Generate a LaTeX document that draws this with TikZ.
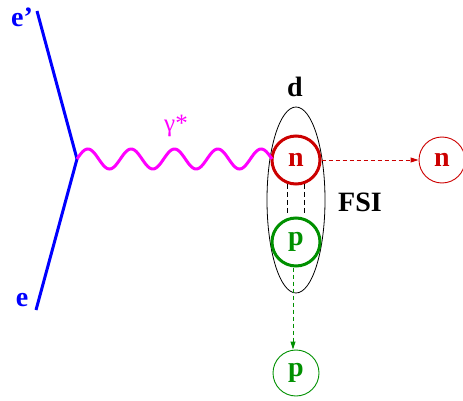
\documentclass[tikz,border=0pt]{standalone}
\usepackage{fontspec}
\setmainfont{Liberation Serif}
\usetikzlibrary{arrows.meta,positioning,shapes.geometric}
\definecolor{fd-blue}{HTML}{0000FF}
\definecolor{fd-magenta}{HTML}{FF00FF}
\definecolor{fd-red}{HTML}{CC0000}
\definecolor{fd-green}{HTML}{009000}
\tikzset{
  nucleon/.style={draw, circle, inner sep=0pt, minimum size=48pt, line width=3pt},
  outgoing/.style={draw, circle, inner sep=0pt, minimum size=46pt, line width=0.9pt},
  fsiline/.style={black, line width=0.8pt, dash pattern=on 5pt off 3pt},
  outline/.style={line width=0.9pt, dash pattern=on 4pt off 3pt, -{Triangle[length=8pt,width=5pt]}}
}

\begin{document}
\begin{tikzpicture}[x=1pt, y=-1pt, thick, font=\bfseries\fontsize{28}{30}\selectfont]
    \useasboundingbox (0,0) rectangle (463,401);
    % electron lines
    \coordinate (vtx) at (77,159);
    \coordinate (ein) at (36,310);
    \coordinate (eout) at (37,11);
    \draw[fd-blue, line width=3pt] (ein) -- (vtx) -- (eout);
    \node[fd-blue] (elab) at (22,300) {e};
    \node[fd-blue] (eplab) at (22,17) {e’};
    % deuteron with n and p
    \node[draw, ellipse, minimum width=58pt, minimum height=186pt, inner sep=0pt, line width=0.8pt] (deut) at (296,200) {};
    \node[nucleon, fd-red] (n) at (296,160) {n};
    \node[nucleon, fd-green] (p) at (296,242) {p};
    \node (dlab) at (295,87) {d};
    \node (fsi) at (360,202) {FSI};
    \draw[fsiline, shorten >=5pt] (n.250) -- (p.110);
    \draw[fsiline, shorten >=5pt] (n.290) -- (p.70);
    % virtual photon, 4.5 waves from the vertex to n
    \draw[fd-magenta, line width=3pt, shift={(vtx)}] plot[domain=0:195, samples=180, smooth] (\x, {-10*sin(\x/195*4.5*360)});
    \node[fd-magenta, font=\fontsize{25}{27}\selectfont] (gam) at (176,126) {γ*};
    % knocked-out nucleons
    \node[outgoing, fd-red] (nout) at (442,160) {n};
    \node[outgoing, fd-green] (pout) at (296,373) {p};
    \draw[outline, fd-red] (n.east) -- (nout.west);
    \draw[outline, fd-green] ([xshift=-3pt]p.south) -- ([xshift=-3pt]pout.north);
\end{tikzpicture}
\end{document}
